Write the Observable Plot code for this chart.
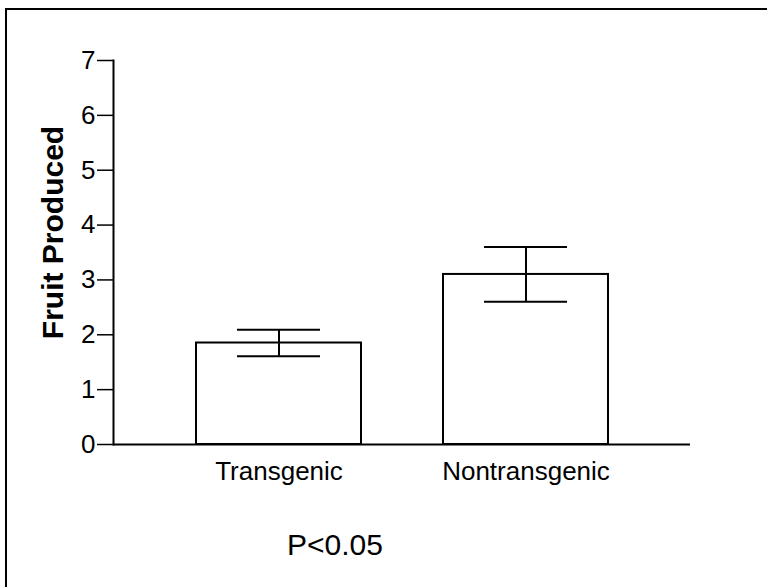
<!DOCTYPE html>
<html>
<head>
<meta charset="utf-8">
<script src="https://cdn.jsdelivr.net/npm/d3@7"></script>
<script src="https://cdn.jsdelivr.net/npm/@observablehq/plot@0.6"></script>
<style>
  html, body { margin: 0; padding: 0; background: #fff; }
  #wrap { position: relative; width: 767px; height: 587px; overflow: hidden; font-family: "Liberation Sans", Arial, sans-serif; }
  #border { position: absolute; left: 5px; top: 8px; width: 800px; height: 700px; border-top: 2px solid #000; border-left: 2px solid #000; box-sizing: border-box; }
  #caption { position: absolute; left: 287px; top: 530px; font-size: 30px; line-height: 1; color: #000; }
</style>
</head>
<body>
<div id="wrap"><div id="border"></div><div id="caption"></div></div>
<script>
const groups = ["Transgenic", "Nontransgenic"];
const means = [1.85, 3.1];
const errors = [0.24, 0.5];
const yTicks = [0, 1, 2, 3, 4, 5, 6, 7];
const yLabel = "Fruit Produced";
const caption = "P<0.05";

const data = groups.map((g, i) => ({group: g, mean: means[i], lo: means[i] - errors[i], hi: means[i] + errors[i]}));

const chart = Plot.plot({
  width: 767,
  height: 587,
  marginLeft: 113,
  marginRight: 77,
  marginTop: 60,
  marginBottom: 143,
  style: {fontFamily: "'Liberation Sans', Arial, sans-serif", fontSize: "26px", color: "#000", background: "transparent"},
  x: {domain: groups, padding: 0.333, label: null},
  y: {domain: [0, 7], label: null},
  marks: [
    Plot.barY(data, {x: "group", y: "mean", fill: "white", stroke: "black", strokeWidth: 2}),
    Plot.ruleX(data, {x: "group", y1: "lo", y2: "hi", stroke: "black", strokeWidth: 2}),
    Plot.tickY(data, {x: "group", y: "lo", insetLeft: 41, insetRight: 41, stroke: "black", strokeWidth: 2}),
    Plot.tickY(data, {x: "group", y: "hi", insetLeft: 41, insetRight: 41, stroke: "black", strokeWidth: 2}),
    Plot.ruleY([0], {stroke: "black", strokeWidth: 2}),
    Plot.frame({anchor: "left", stroke: "black", strokeWidth: 2}),
    Plot.axisY({ticks: yTicks, tickSize: 16, tickPadding: 2, tickFormat: d3.format("d"), label: null, fontSize: 26, strokeWidth: 1.5}),
    Plot.axisX({tickSize: 0, tickPadding: 17, label: null, fontSize: 26}),
    Plot.text([yLabel], {frameAnchor: "left", rotate: -90, dx: -60, dy: -20, textAnchor: "middle", lineAnchor: "middle", fontWeight: "bold", fontSize: 30, fill: "black"})
  ]
});
const wrap = document.getElementById("wrap");
wrap.insertBefore(chart, wrap.firstChild);
document.getElementById("caption").textContent = caption;
</script>
</body>
</html>
